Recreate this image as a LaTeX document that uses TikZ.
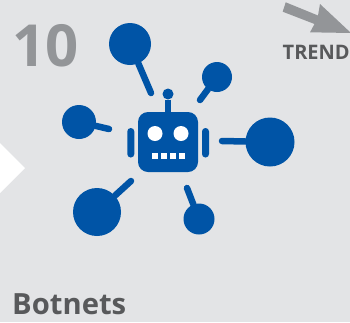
\documentclass[tikz,border=0pt]{standalone}
\usepackage{fontspec}
\setmainfont{Open Sans}
\definecolor{bg}{HTML}{E3E4E6}
\definecolor{botblue}{HTML}{0054A6}
\definecolor{greynum}{HTML}{939598}
\definecolor{greytxt}{HTML}{58595B}
\begin{document}
\begin{tikzpicture}[x=1pt,y=-1pt,
  hub/.style={circle,fill=botblue,inner sep=0pt,draw=none},
  spoke/.style={draw=botblue,line width=6.5pt,line cap=round},
  ear/.style={fill=botblue,rounded corners=3.4pt},
  tooth/.style={fill=white},
  label/.style={inner sep=0pt,anchor=base west}]
\useasboundingbox (0,0) rectangle (350,322);
\fill[bg] (0,0) rectangle (350,322);
\fill[white] (0,143) -- (25,168) -- (0,193) -- cycle;
% trend arrow
\begin{scope}
\clip (0,0) rectangle (350,322);
\fill[greynum] (285.7,2.3) -- (318,15.5) -- (320,4) -- (351,33) -- (310,32.3) -- (314.5,24) -- (282.7,11.7) -- cycle;
\end{scope}
\node[label,text=greynum,font=\bfseries\fontsize{58}{58}\selectfont] (num) at (12.5,66) {10};
\node[label,text=greytxt,font=\fontsize{20}{20}\selectfont\bfseries] (trend) at (282.5,59.5) {TREND};
\node[label,text=greytxt,font=\bfseries\fontsize{29.2}{29.2}\selectfont] (title) at (12,314.5) {Botnets};
% satellites
\node[hub,minimum size=42pt] (s1) at (130,44) {};
\node[hub,minimum size=30pt] (s2) at (217,77) {};
\node[hub,minimum size=34pt] (s3) at (79,122) {};
\node[hub,minimum size=49pt] (s4) at (270,142) {};
\node[hub,minimum size=48pt] (s5) at (97,212) {};
\node[hub,minimum size=31pt] (s6) at (199,219) {};
\coordinate (e1) at (151,93);
\coordinate (e2) at (200,100);
\coordinate (e3) at (109,129);
\coordinate (e4) at (222,141);
\coordinate (e5) at (131,181);
\coordinate (e6) at (187,188);
\draw[spoke] (s1) -- (e1);
\draw[spoke] (s2) -- (e2);
\draw[spoke] (s3) -- (e3);
\draw[spoke] (s4) -- (e4);
\draw[spoke] (s5) -- (e5);
\draw[spoke] (s6) -- (e6);
% robot
\node[hub,minimum size=11pt] (ant) at (168,94) {};
\fill[botblue,rounded corners=10pt] (138,112) rectangle (198,172);
\coordinate (head) at (168,112);
\draw[botblue,line width=5.5pt] (ant) -- (head);
\fill[ear] (127.3,128) rectangle (134.3,157.5);
\fill[ear] (202,128) rectangle (209,157.5);
\node[circle,fill=white,inner sep=0pt,minimum size=15pt] (eyeL) at (155,133.5) {};
\node[circle,fill=white,inner sep=0pt,minimum size=15pt] (eyeR) at (181,133.5) {};
\fill[tooth] (151.7,153) rectangle +(6,6);
\fill[tooth] (160.7,153) rectangle +(6,6);
\fill[tooth] (169.7,153) rectangle +(6,6);
\fill[tooth] (178.7,153) rectangle +(6,6);
\end{tikzpicture}
\end{document}
